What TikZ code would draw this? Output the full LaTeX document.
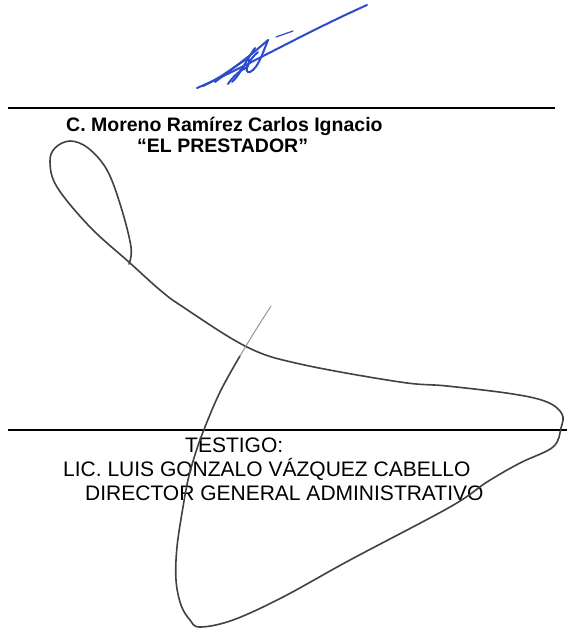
\documentclass[tikz,border=0pt]{standalone}
\usepackage{fontspec}
\setmainfont{Liberation Sans}
\definecolor{inkblue}{RGB}{45,75,205}
\definecolor{inkgray}{RGB}{65,65,65}
\tikzset{
  sigline/.style={line width=1.4pt, black},
  bluepen/.style={inkblue, line width=2pt, line cap=round, line join=round},
  graypen/.style={inkgray, line width=1.6pt, line cap=round, line join=round},
  boldtxt/.style={inner sep=0pt, anchor=base west, font=\fontsize{19.5}{22}\selectfont\bfseries},
  regtxt/.style={inner sep=0pt, anchor=base west, font=\fontsize{21}{24}\selectfont},
}
\begin{document}
\begin{tikzpicture}[x=1pt,y=-1pt]
\useasboundingbox[fill=white] (0,0) rectangle (572,635);
% blue signature
\draw[bluepen] (197,88) .. controls (240,70) and (300,35) .. (367,5);
\draw[bluepen] (203,86) .. controls (225,76) and (250,56) .. (268,40);
\draw[bluepen] (268,40) .. controls (262,55) and (258,68) .. (250,72) .. controls (243,74) and (248,60) .. (258,52);
\draw[bluepen] (232,82) .. controls (240,75) and (245,62) .. (255,48);
\draw[bluepen] (228,84) .. controls (232,78) and (238,72) .. (245,68);
\draw[bluepen] (215,82) .. controls (228,72) and (236,66) .. (248,58) .. controls (252,64) and (246,70) .. (240,70);
\draw[bluepen, line width=1.2pt] (276,37) -- (293,31);
% signature lines
\coordinate (l1a) at (8,108);
\coordinate (l1b) at (555,108);
\coordinate (l2a) at (8,430);
\coordinate (l2b) at (567,430);
\draw[sigline] (l1a) -- (l1b);
\draw[sigline] (l2a) -- (l2b);
% texts
\node[boldtxt] (name) at (66,131) {C. Moreno Ramírez Carlos Ignacio};
\node[boldtxt] (role) at (137,152) {“EL PRESTADOR”};
\node[regtxt] (testigo) at (185,452) {TESTIGO:};
\node[regtxt] (lic) at (63,476) {LIC. LUIS GONZALO VÁZQUEZ CABELLO};
\node[regtxt] (dir) at (85,500) {DIRECTOR GENERAL ADMINISTRATIVO};
% gray signature
\draw[graypen] plot[smooth, tension=0.6] coordinates {
 (129,264) (131,247) (121,207) (107,170) (88,148) (70,141) (55,148) (50,162)
 (57,187) (90,227) (130,263) (160,290) (183,307) (247,347) (300,364) (400,382)
 (447,386) (513,394) (547,402) (562,414) (561,428) (553,447) (520,463) (487,482)
 (450,507) (350,560) (283,597) (233,620) (200,627) (190,620) (181,605) (176,580)
 (177,547) (183,507) (188,480) (194,458) (203,432) (220,392) (240,356)};
\draw[inkgray!55, line width=1pt, line cap=round] plot[smooth] coordinates {(240,356) (252,336) (262,320) (271,306)};
\end{tikzpicture}
\end{document}
